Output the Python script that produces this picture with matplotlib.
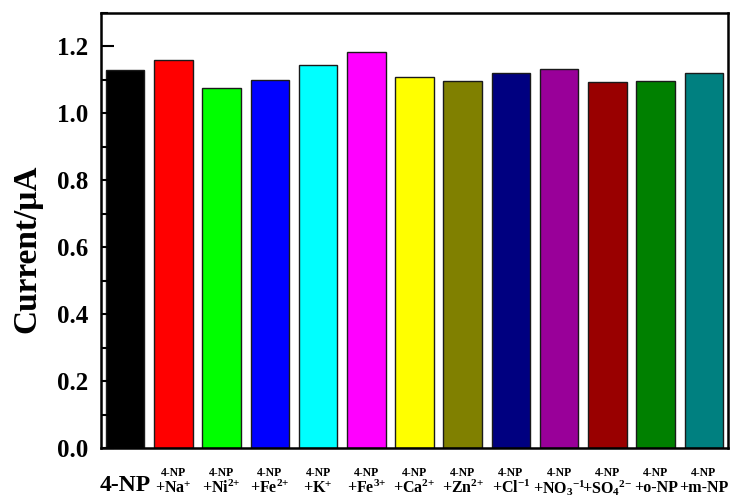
import matplotlib
matplotlib.use("Agg")
import matplotlib.pyplot as plt
from matplotlib.ticker import MultipleLocator
import matplotlib.transforms as mtransforms

plt.rcParams['font.family'] = ['Liberation Serif', 'DejaVu Serif']
plt.rcParams['font.weight'] = 'bold'
plt.rcParams['mathtext.fontset'] = 'custom'
plt.rcParams['mathtext.rm'] = 'Liberation Serif:bold'
plt.rcParams['mathtext.it'] = 'Liberation Serif:bold'
plt.rcParams['mathtext.bf'] = 'Liberation Serif:bold'

categories = ["4-NP", "+Na$^{+}$", "+Ni$^{2{+}}$", "+Fe$^{2{+}}$", "+K$^{+}$", "+Fe$^{3{+}}$",
              "+Ca$^{2{+}}$", "+Zn$^{2{+}}$", "+Cl$^{{-}1}$", "+NO$_{3}$$^{{-}1}$",
              "+SO$_{4}$$^{2{-}}$", "+o-NP", "+m-NP"]
values = [1.131, 1.160, 1.075, 1.101, 1.145, 1.182, 1.110, 1.096, 1.122, 1.132,
          1.093, 1.098, 1.120]
colors = ["#000000", "#FF0000", "#00FF00", "#0000FF", "#00FFFF", "#FF00FF",
          "#FFFF00", "#808000", "#000080", "#990099", "#990000", "#008000", "#008080"]
prefix = "4-NP"
ylabel = "Current/\u03bcA"

fig = plt.figure(figsize=(7.34, 4.99), dpi=100)
ax = fig.add_axes([101/734, 51/499, 627/734, 435/499])

x = list(range(len(values)))
ax.bar(x, values, width=0.8, color=colors, edgecolor="#1a1a1a", linewidth=1.0)

ax.set_xlim(-0.5, len(values) - 0.5)
ax.set_ylim(0, 1.3)
ax.yaxis.set_major_locator(MultipleLocator(0.2))
ax.yaxis.set_minor_locator(MultipleLocator(0.1))
ax.set_yticks([0.0, 0.2, 0.4, 0.6, 0.8, 1.0, 1.2])
ax.set_yticklabels(["0.0", "0.2", "0.4", "0.6", "0.8", "1.0", "1.2"])
ax.tick_params(axis='y', which='major', direction='in', length=9, width=1.5,
               labelsize=18, pad=9)
ax.tick_params(axis='y', which='minor', direction='in', length=5, width=1.5)
ax.set_xticks(x)
ax.set_xticklabels([])
ax.tick_params(axis='x', which='both', length=0)
for s in ax.spines.values():
    s.set_linewidth(1.8)

ax.set_ylabel(ylabel, fontsize=24, fontweight='bold')
ax.yaxis.set_label_coords(-0.094, 0.457)

trans = mtransforms.blended_transform_factory(ax.transData, ax.transAxes)
for i, lab in enumerate(categories):
    if i == 0:
        ax.text(i, -0.086, lab, transform=trans, ha='center', va='center',
                fontsize=17, fontweight='bold')
    else:
        ax.text(i, -0.058, prefix, transform=trans, ha='center', va='center',
                fontsize=8.5, fontweight='bold')
        ax.text(i, -0.093, lab, transform=trans, ha='center', va='center',
                fontsize=11.5, fontweight='bold')

fig.savefig("out.png", dpi=100)
